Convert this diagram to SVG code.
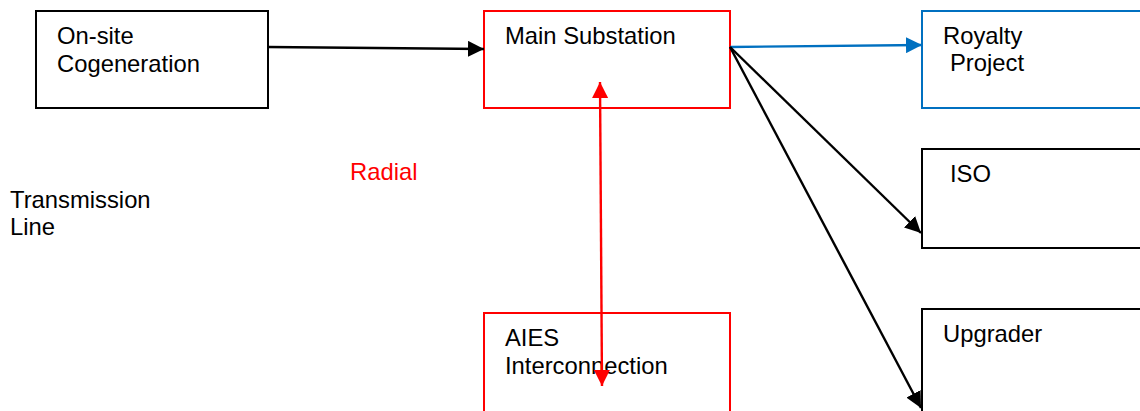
<svg xmlns="http://www.w3.org/2000/svg" width="1140" height="411" viewBox="0 0 1140 411">
  <style>
    .box { fill: #ffffff; stroke-width: 2; }
    .blk { stroke: #000000; }
    .red { stroke: #ff0000; }
    .blu { stroke: #0070c0; }
    .t { font-family: "Liberation Sans", Arial, sans-serif; font-size: 23.8px; fill: #000000; }
    .tr { fill: #ff0000; }
    .ln { fill: none; stroke-width: 2.4; }
  </style>
  <defs>
    <marker id="ahB" markerUnits="userSpaceOnUse" markerWidth="17" markerHeight="16" refX="16" refY="8" orient="auto">
      <path d="M0,0 L16,8 L0,16 Z" fill="#000000"/>
    </marker>
    <marker id="ahU" markerUnits="userSpaceOnUse" markerWidth="17" markerHeight="16" refX="16" refY="8" orient="auto">
      <path d="M0,0 L16,8 L0,16 Z" fill="#0070c0"/>
    </marker>
    <marker id="ahR" markerUnits="userSpaceOnUse" markerWidth="17" markerHeight="16" refX="16" refY="8" orient="auto">
      <path d="M0,0 L16,8 L0,16 Z" fill="#ff0000"/>
    </marker>
    <marker id="ahRs" markerUnits="userSpaceOnUse" markerWidth="17" markerHeight="16" refX="0" refY="8" orient="auto">
      <path d="M16,0 L0,8 L16,16 Z" fill="#ff0000"/>
    </marker>
  </defs>

  <g id="onsite">
    <rect class="box blk" x="36" y="11" width="232" height="97"/>
    <text class="t" x="57" y="44">On-site</text>
    <text class="t" x="57" y="72">Cogeneration</text>
  </g>
  <g id="main">
    <rect class="box red" x="484" y="11" width="246" height="97"/>
    <text class="t" x="505" y="44">Main Substation</text>
  </g>
  <g id="royalty">
    <rect class="box blu" x="922" y="11" width="230" height="97"/>
    <text class="t" x="943" y="44">Royalty</text>
    <text class="t" x="950" y="71">Project</text>
  </g>
  <g id="iso">
    <rect class="box blk" x="922" y="149" width="230" height="99"/>
    <text class="t" x="950" y="182">ISO</text>
  </g>
  <g id="upgrader">
    <rect class="box blk" x="922" y="309" width="230" height="120"/>
    <text class="t" x="943" y="342">Upgrader</text>
  </g>
  <g id="aies">
    <rect class="box red" x="484" y="313" width="246" height="120"/>
    <text class="t" x="505" y="346">AIES</text>
    <text class="t" x="505" y="374">Interconnection</text>
  </g>
  <g id="labels">
    <text class="t tr" x="350" y="180">Radial</text>
    <text class="t" x="10" y="208">Transmission</text>
    <text class="t" x="10" y="235">Line</text>
  </g>

  <g id="connectors">
    <line class="ln blk" x1="268" y1="47" x2="484" y2="49" marker-end="url(#ahB)"/>
    <line class="ln blu" x1="730" y1="47" x2="922" y2="45" marker-end="url(#ahU)"/>
    <line class="ln blk" x1="730" y1="47" x2="921" y2="233" marker-end="url(#ahB)"/>
    <line class="ln blk" x1="730" y1="47" x2="921" y2="408" marker-end="url(#ahB)"/>
    <line class="ln red" x1="600" y1="82" x2="602" y2="386" marker-start="url(#ahRs)" marker-end="url(#ahR)"/>
  </g>
</svg>
